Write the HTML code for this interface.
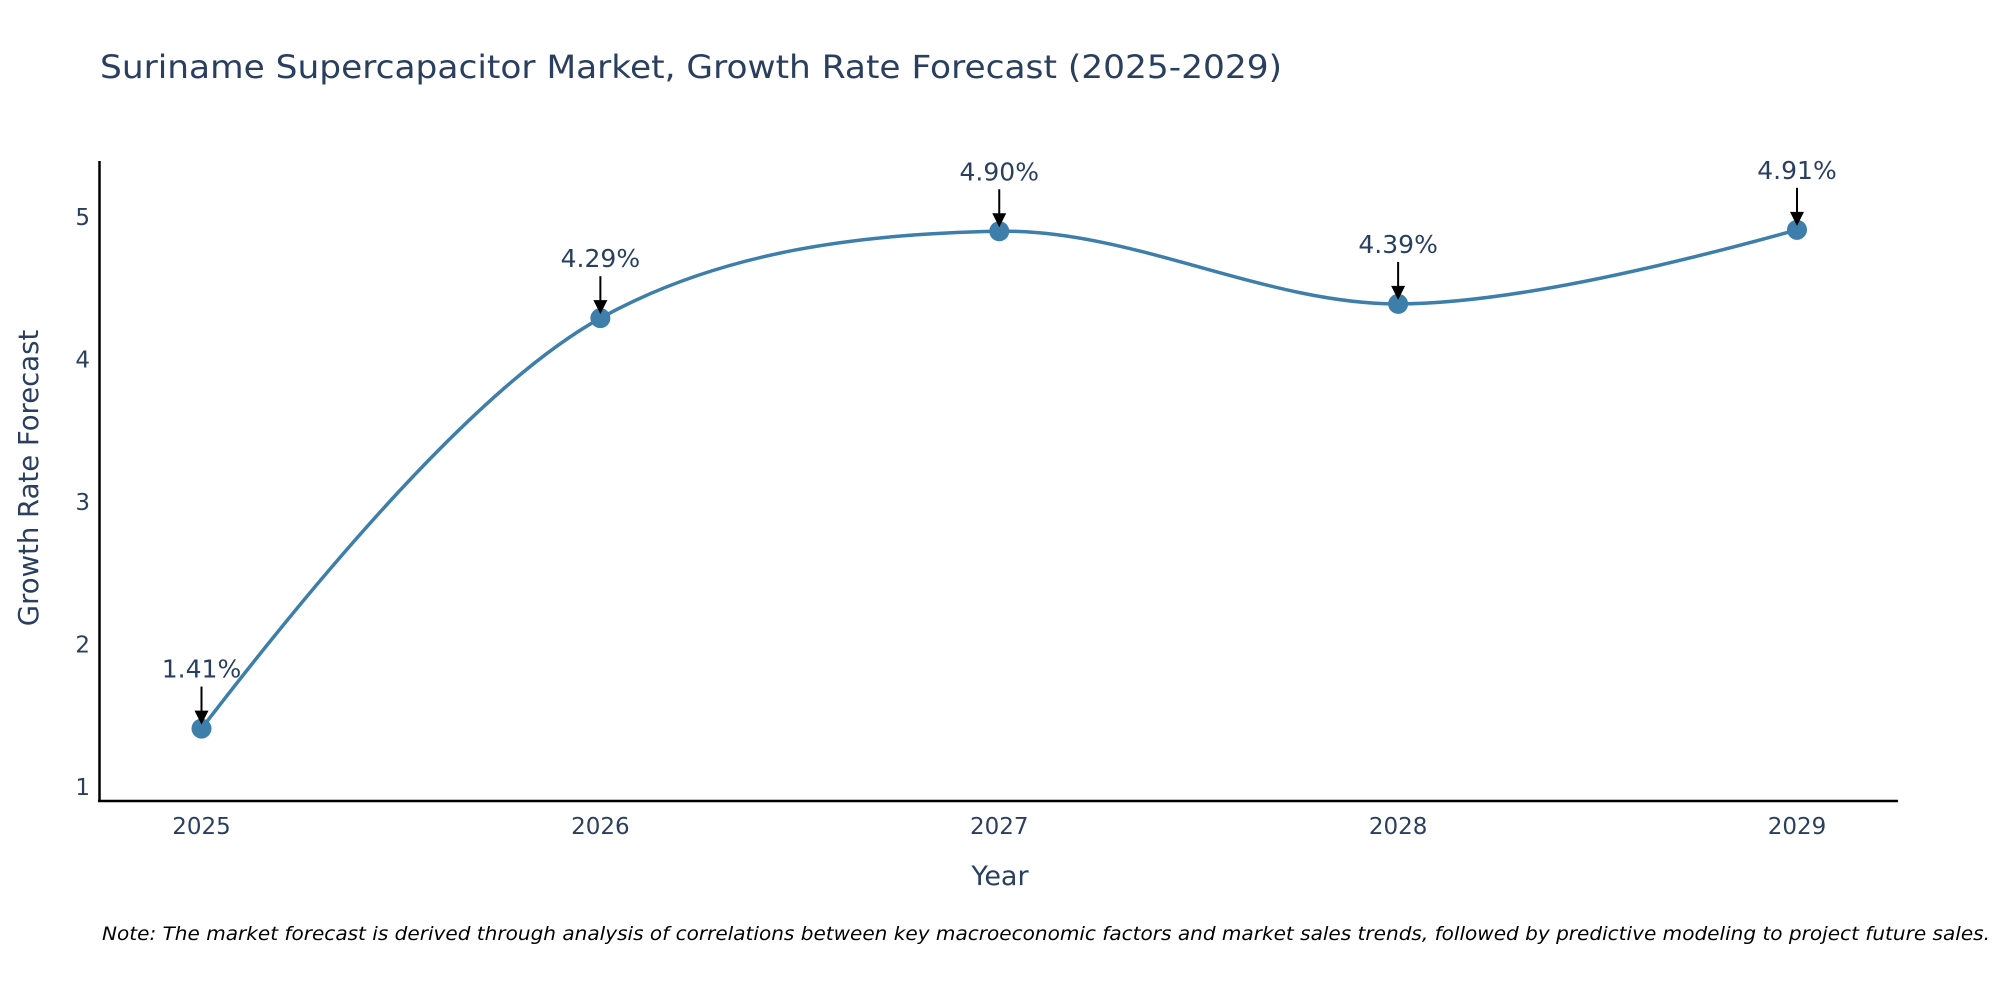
<!DOCTYPE html>
<html><head><meta charset="utf-8"><style>
body{margin:0;background:#fff;}
svg{display:block;font-family:"DejaVu Sans","Liberation Sans",sans-serif;}
</style></head><body>
<svg id="chart" width="2000" height="1000">
<text x="100" y="78" font-size="32" fill="#2a3f5f" textLength="1182" lengthAdjust="spacingAndGlyphs">Suriname Supercapacitor Market, Growth Rate Forecast (2025-2029)</text>
<g id="axes"></g>
<g id="plot"></g>
<text x="1000" y="885" font-size="27" fill="#2a3f5f" text-anchor="middle">Year</text>
<text transform="translate(38,478) rotate(-90)" font-size="27.5" fill="#2a3f5f" text-anchor="middle">Growth Rate Forecast</text>
<text x="1990" y="940" font-size="19" font-style="italic" fill="#000" text-anchor="end" textLength="1888" lengthAdjust="spacingAndGlyphs">Note: The market forecast is derived through analysis of correlations between key macroeconomic factors and market sales trends, followed by predictive modeling to project future sales.</text>
</svg>
<script>
const years = [2025, 2026, 2027, 2028, 2029];
const values = [1.41, 4.29, 4.90, 4.39, 4.91];
const labels = ["1.41%", "4.29%", "4.90%", "4.39%", "4.91%"];
const yTicks = [1, 2, 3, 4, 5];

const NS = "http://www.w3.org/2000/svg";
const xs = y => 201.5 + (y - 2025) * (1797 - 201.5) / 4;
const ys = v => 787 - (v - 1) * 142.5;
function mk(tag, attrs, parent) {
  const e = document.createElementNS(NS, tag);
  for (const k in attrs) e.setAttribute(k, attrs[k]);
  parent.appendChild(e); return e;
}
const axes = document.getElementById('axes'), plot = document.getElementById('plot');
const yl = mk('line', {x1: 99.5, y1: 161, x2: 99.5, y2: 801, stroke: '#000', 'stroke-width': 2.5}, axes);


const xl = mk('line', {x1: 98, y1: 801, x2: 1898, y2: 801, stroke: '#000', 'stroke-width': 2.5}, axes);


yTicks.forEach(t => {
  const e = mk('text', {x: 90, y: ys(t) + 8, 'font-size': 23, fill: '#2a3f5f', 'text-anchor': 'end'}, axes);
  e.textContent = t;
  
  
});
years.forEach(y => {
  const e = mk('text', {x: xs(y), y: 834, 'font-size': 23, fill: '#2a3f5f', 'text-anchor': 'middle'}, axes);
  e.textContent = y;
  
  
});
const pts = years.map((y, i) => [xs(y), ys(values[i])]);
function tangent(a, b, c) {
  const d1x = a[0]-b[0], d1y = a[1]-b[1], d2x = c[0]-b[0], d2y = c[1]-b[1];
  const d1a = Math.pow(d1x*d1x + d1y*d1y, 0.25), d2a = Math.pow(d2x*d2x + d2y*d2y, 0.25);
  const nx = d2a*d2a*d1x - d1a*d1a*d2x, ny = d2a*d2a*d1y - d1a*d1a*d2y;
  const den1 = 3*d2a*(d1a+d2a), den2 = 3*d1a*(d1a+d2a);
  return [[b[0]+nx/den1, b[1]+ny/den1], [b[0]-nx/den2, b[1]-ny/den2]];
}
const tg = [];
for (let i = 1; i < pts.length - 1; i++) tg.push(tangent(pts[i-1], pts[i], pts[i+1]));
let d = 'M' + pts[0] + 'Q' + tg[0][0] + ' ' + pts[1];
for (let i = 2; i < pts.length - 1; i++) d += 'C' + tg[i-2][1] + ' ' + tg[i-1][0] + ' ' + pts[i];
d += 'Q' + tg[pts.length-3][1] + ' ' + pts[pts.length-1];
const line = mk('path', {d: d, fill: 'none', stroke: '#3d7eaa', 'stroke-width': 3.5}, plot);


pts.forEach((p, i) => {
  const c = mk('circle', {cx: p[0], cy: p[1], r: 10, fill: '#3d7eaa'}, plot);
  
  
  const a = mk('line', {x1: p[0], y1: p[1] - 42, x2: p[0], y2: p[1] - 16, stroke: '#000', 'stroke-width': 2}, plot);
  
  
  const h = mk('polygon', {points: `${p[0]-7},${p[1]-18} ${p[0]+7},${p[1]-18} ${p[0]},${p[1]-4}`, fill: '#000'}, plot);
  
  
  const t = mk('text', {x: p[0], y: p[1] - 51, 'font-size': 25, fill: '#2a3f5f', 'text-anchor': 'middle'}, plot);
  t.textContent = labels[i];
  
  
});
</script>
</body></html>
